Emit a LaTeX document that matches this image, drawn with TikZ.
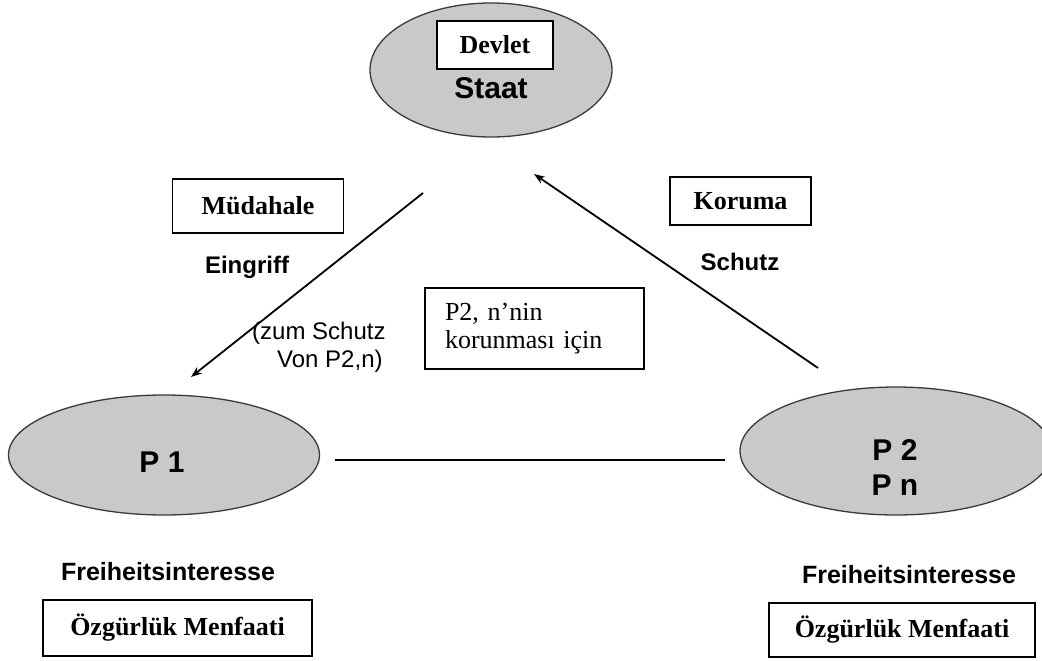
\documentclass[tikz,border=0pt]{standalone}
\usepackage{fontspec}
\setmainfont{Liberation Serif}
\newfontfamily\arialf{Liberation Sans}
\usetikzlibrary{shapes.geometric,arrows.meta}
\definecolor{ellgray}{HTML}{C9C9C9}
\definecolor{ellline}{HTML}{3A3A3A}
\begin{document}
\begin{tikzpicture}[x=1pt,y=-1pt,
  oval/.style={ellipse, draw=ellline, line width=1.3pt, fill=ellgray, inner sep=0pt},
  tbox/.style={draw=black, line width=1.1pt, fill=white, inner sep=0pt,
    font=\fontsize{26}{30}\selectfont\bfseries},
  sanslbl/.style={inner sep=0pt, font=\arialf\fontsize{24}{28}\selectfont\bfseries},
  sansreg/.style={inner sep=0pt, font=\arialf\fontsize{24}{28}\selectfont, anchor=west},
  arr/.style={line width=1.8pt, -{Stealth[length=11pt,width=8pt]}},
  plain/.style={line width=1.8pt}]
\clip (0,0) rectangle (1042,661);
\fill[white] (0,0) rectangle (1042,661);

% ellipses
\node[oval, minimum width=242pt, minimum height=134pt] (staat) at (491,70) {};
\node[oval, minimum width=311pt, minimum height=120pt] (p1) at (164,455) {};
\node[oval, minimum width=312pt, minimum height=128pt] (p2) at (896,451) {};

% texts inside ellipses
\node[tbox, minimum width=116pt, minimum height=48pt] (devlet) at (495,45) {Devlet};
\node[sanslbl, font=\arialf\fontsize{30}{34}\selectfont\bfseries] (staattxt) at (491,88) {Staat};
\node[sanslbl, font=\arialf\fontsize{30}{34}\selectfont\bfseries] (p1txt) at (162,462) {P 1};
\node[sanslbl, font=\arialf\fontsize{30}{34}\selectfont\bfseries] (p2txt) at (895,450) {P 2};
\node[sanslbl, font=\arialf\fontsize{30}{34}\selectfont\bfseries] (pntxt) at (895,485) {P n};

% left arrow labels
\node[tbox, minimum width=171pt, minimum height=54pt] (mudahale) at (258,206) {Müdahale};
\node[sanslbl] (eingriff) at (247,267) {Eingriff};
\node[sansreg] (zum) at (252,333) {(zum Schutz};
\node[sansreg] (von) at (277,361) {Von P2,n)};

% middle box
\node[draw=black, line width=1.1pt, fill=white, inner xsep=20pt, inner ysep=0pt,
  minimum width=219pt, minimum height=81pt, text width=179pt, align=left,
  font=\fontsize{26}{28}\selectfont] (p2box) at (534.5,328.5)
  {P2, n’nin\\korunması için};

% right arrow labels
\node[tbox, minimum width=141pt, minimum height=48pt] (koruma) at (740.5,201) {Koruma};
\node[sanslbl] (schutz) at (740,262) {Schutz};

% bottom labels
\node[sanslbl, font=\arialf\fontsize{25}{29}\selectfont\bfseries] (frei1) at (168,572) {Freiheitsinteresse};
\node[sanslbl, font=\arialf\fontsize{25}{29}\selectfont\bfseries] (frei2) at (909,575) {Freiheitsinteresse};
\node[tbox, minimum width=269pt, minimum height=56pt] (oz1) at (177.5,628) {Özgürlük Menfaati};
\node[tbox, minimum width=266pt, minimum height=54pt] (oz2) at (902,630) {Özgürlük Menfaati};

% connectors
\coordinate (eA) at (423,193);
\coordinate (eB) at (191,377);
\coordinate (sA) at (818,368);
\coordinate (sB) at (534,174);
\coordinate (lA) at (335,460);
\coordinate (lB) at (725,460);
\draw[arr] (eA) -- (eB);
\draw[arr] (sA) -- (sB);
\draw[plain] (lA) -- (lB);
\end{tikzpicture}
\end{document}
